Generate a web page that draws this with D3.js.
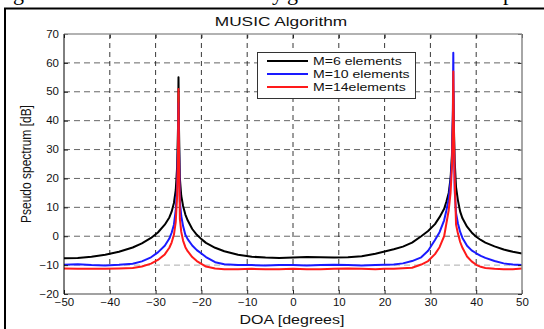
<!DOCTYPE html>
<html>
<head>
<meta charset="utf-8">
<script src="https://cdn.jsdelivr.net/npm/d3@7"></script>
<style>
html, body { margin: 0; padding: 0; background: #fff; }
svg { display: block; }
text { font-family: "Liberation Sans", Arial, sans-serif; }
</style>
</head>
<body>
<div id="chartDiv"></div>
<script>
// DOA grid (degrees), denser near the two sources at -25 and 35
const angles = [-50, -47, -44, -41, -38, -35, -33, -31, -29.5, -28, -27, -26.5, -26, -25.6, -25.3, -25.1, -25, -24.9, -24.7, -24.4,
	-24, -23.5, -23, -22, -21, -20, -19, -17, -15, -12, -9, -6, -3, 0, 3, 6, 9, 12, 15, 18,
	20, 22, 24, 26, 28, 29.5, 31, 32, 33, 33.5, 34, 34.4, 34.7, 34.9, 35, 35.1, 35.3, 35.6, 36, 36.5,
	37, 38, 39, 40, 41, 42, 44, 46, 48, 50];

// pseudo spectrum [dB]
const m6 = [-7.6, -7.5, -7.1, -6.4, -5.4, -3.9, -2.5, -0.6, 1.3, 4.0, 6.5, 8.5, 11.5, 16, 24, 38, 55, 38, 20, 14,
	10.5, 7.5, 5.5, 2.5, 0.5, -1, -2.3, -4, -5.2, -6.4, -7.1, -7.4, -7.5, -7.4, -7.2, -7.3, -7.4, -7.3, -6.9, -6.1,
	-5.3, -4.5, -3.6, -2.2, 0, 1.8, 4.2, 6.6, 9.5, 12, 15, 20, 28, 40, 50, 40, 26, 17, 12.5, 8.5,
	6.2, 3.3, 1.3, -0.2, -1.3, -2.2, -3.5, -4.6, -5.4, -6.0];

const m10 = [-9.9, -9.7, -10.0, -10.1, -9.9, -9.5, -8.7, -7.3, -5.6, -3.3, -0.8, 1.2, 4, 9, 17, 32, 46, 32, 12, 7,
	3.5, 0.5, -1.0, -3.2, -4.8, -6.0, -7.2, -9.0, -9.7, -10.0, -10.0, -10.1, -10.0, -10.0, -10.1, -10.0, -9.9, -10.0, -10.1, -10.0,
	-9.9, -9.8, -9.4, -8.6, -7.3, -5.0, -1.3, 1.4, 5.5, 9, 13, 19, 26, 42, 63.5, 40, 16, 8, 4.5, 1.5,
	-0.6, -3.3, -4.9, -5.9, -6.8, -7.5, -8.6, -9.4, -9.8, -10.0];

const m14 = [-11.2, -11.3, -11.3, -11.3, -11.2, -11.0, -10.5, -9.5, -8.2, -6.3, -4.0, -2.2, 0.5, 5, 14, 30, 51, 30, 6, 1.5,
	-1.5, -3.8, -5.2, -7.2, -8.6, -9.6, -10.5, -11.2, -11.4, -11.4, -11.3, -11.4, -11.4, -11.3, -11.4, -11.4, -11.3, -11.2, -11.3, -11.4,
	-11.3, -11.3, -11.1, -10.9, -9.8, -8.6, -6.2, -3.8, 0, 4.5, 9, 15, 24, 40, 57, 40, 20, 4, 1, -2,
	-4.0, -7.0, -8.7, -9.9, -10.6, -11.0, -11.3, -11.4, -11.4, -11.2];

const seriesNames = ['M=6 elements', 'M=10 elements', 'M=14elements'];
const xTicks = [-50, -40, -30, -20, -10, 0, 10, 20, 30, 40, 50];
const yTicks = [-20, -10, 0, 10, 20, 30, 40, 50, 60, 70];

const seriesColors = ['#000000', '#1a1aff', '#ff1a1a'];
const W = 544, H = 329;
const margin = { left: 64, right: 22, top: 34, bottom: 35 };
const plotW = W - margin.left - margin.right;
const plotH = H - margin.top - margin.bottom;
const sxText = 1.28, sxTick = 1.15;

const svg = d3.select('#chartDiv').append('svg')
	.attr('width', W)
	.attr('height', H);

svg.append('rect').attr('width', W).attr('height', H).attr('fill', '#fff');

// bits of the page around the figure
svg.append('path')
	.attr('d', 'M5,329 V8.5 H544')
	.attr('fill', 'none')
	.attr('stroke', '#000')
	.attr('stroke-width', 2);
[['g', 13], ['y', 272], ['g', 287], ['p', 503]].forEach(([t, px]) => {
	svg.append('text').attr('x', px).attr('y', 0)
		.style('font-family', '"Liberation Serif", serif')
		.style('font-size', '22px')
		.text(t);
});

const x = d3.scaleLinear().domain([-50, 50]).range([0, plotW]);
const y = d3.scaleLinear().domain([-20, 70]).range([plotH, 0]);

const g = svg.append('g').attr('transform', `translate(${margin.left},${margin.top})`);

// grid
g.append('g').selectAll('line')
	.data(yTicks.slice(1, -1))
	.join('line')
	.attr('x1', 0).attr('x2', plotW)
	.attr('y1', d => y(d)).attr('y2', d => y(d))
	.attr('stroke', d => d === -10 ? '#aaa' : '#666')
	.attr('stroke-width', 1)
	.attr('stroke-dasharray', '6,4');

g.append('g').selectAll('line')
	.data(xTicks.slice(1, -1))
	.join('line')
	.attr('x1', d => x(d)).attr('x2', d => x(d))
	.attr('y1', 0).attr('y2', plotH)
	.attr('stroke', '#222')
	.attr('stroke-width', 0.9)
	.attr('stroke-dasharray', '5,4');

// curves
const lineGen = d3.line()
	.x((d, i) => x(angles[i]))
	.y(d => y(d));

[m6, m10, m14].forEach((s, i) => {
	g.append('path')
		.datum(s)
		.attr('d', lineGen)
		.attr('fill', 'none')
		.attr('stroke', seriesColors[i])
		.attr('stroke-width', 2)
		.attr('stroke-linejoin', 'round');
});

// axes
const xAxis = g.append('g')
	.attr('transform', `translate(0,${plotH})`)
	.call(d3.axisBottom(x).tickValues(xTicks).tickSizeInner(-4).tickSizeOuter(0).tickPadding(5));
const yAxis = g.append('g')
	.call(d3.axisLeft(y).tickValues(yTicks).tickSizeInner(-4).tickSizeOuter(0).tickPadding(5));
g.append('g')
	.call(d3.axisTop(x).tickValues(xTicks).tickSizeInner(-4).tickSizeOuter(0).tickFormat(''));
g.append('g')
	.attr('transform', `translate(${plotW},0)`)
	.call(d3.axisRight(y).tickValues(yTicks).tickSizeInner(-4).tickSizeOuter(0).tickFormat(''));

g.selectAll('.domain').remove();
g.selectAll('.tick line').attr('stroke', '#222');

xAxis.selectAll('text')
	.attr('x', 0)
	.attr('transform', `scale(${sxTick},1)`)
	.style('font-size', '10px')
	.attr('fill', '#111');
yAxis.selectAll('text')
	.attr('x', -5 / sxTick)
	.attr('transform', `scale(${sxTick},1)`)
	.style('font-size', '10px')
	.attr('fill', '#111');

// box
g.append('line').attr('x1', 0).attr('x2', plotW).attr('y1', 0).attr('y2', 0)
	.attr('stroke', '#999').attr('stroke-width', 1.5);
g.append('line').attr('x1', plotW).attr('x2', plotW).attr('y1', 0).attr('y2', plotH)
	.attr('stroke', '#888').attr('stroke-width', 1.5);
g.append('line').attr('x1', 0).attr('x2', plotW).attr('y1', plotH).attr('y2', plotH)
	.attr('stroke', '#444').attr('stroke-width', 1.2);
g.append('line').attr('x1', 0).attr('x2', 0).attr('y1', 0).attr('y2', plotH)
	.attr('stroke', '#000').attr('stroke-width', 1);

// legend
const leg = g.append('g').attr('transform', `translate(${257 - margin.left},${52 - margin.top})`);
leg.append('rect')
	.attr('x', 0.5).attr('y', 0.5)
	.attr('width', 158).attr('height', 46)
	.attr('fill', '#fff')
	.attr('stroke', '#333')
	.attr('stroke-width', 1);
seriesNames.forEach((name, i) => {
	const ry = 9 + i * 13;
	leg.append('line')
		.attr('x1', 10).attr('x2', 51)
		.attr('y1', ry).attr('y2', ry)
		.attr('stroke', seriesColors[i])
		.attr('stroke-width', 2);
	leg.append('text')
		.attr('transform', `translate(56,${ry + 4}) scale(${sxText},1)`)
		.style('font-size', '11px')
		.attr('fill', '#111')
		.text(name);
});

// titles
svg.append('text')
	.attr('transform', `translate(281,25.5) scale(${sxText},1)`)
	.attr('text-anchor', 'middle')
	.style('font-size', '13.5px')
	.attr('fill', '#111')
	.text('MUSIC Algorithm');
svg.append('text')
	.attr('transform', `translate(292,323.5) scale(${sxText},1)`)
	.attr('text-anchor', 'middle')
	.style('font-size', '12.5px')
	.attr('fill', '#111')
	.text('DOA [degrees]');
svg.append('text')
	.attr('transform', `translate(25,164) scale(${sxText},1) rotate(-90)`)
	.attr('text-anchor', 'middle')
	.attr('dy', '0.36em')
	.style('font-size', '12px')
	.attr('fill', '#111')
	.text('Pseudo spectrum [dB]');
</script>
</body>
</html>
